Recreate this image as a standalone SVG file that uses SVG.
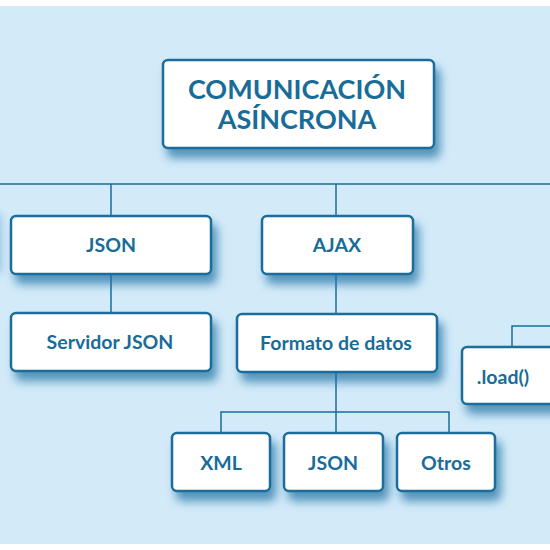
<svg xmlns="http://www.w3.org/2000/svg" width="550" height="550" viewBox="0 0 550 550">
<style>
.box{fill:#ffffff;stroke:#1a6d99;stroke-width:2.5}
.line{stroke:#1a6d99;stroke-width:1.5;fill:none}
.t{font-family:Lato,"Open Sans",sans-serif;font-weight:bold;fill:#196c98;text-anchor:middle}
.s{font-size:19.5px}
.big{font-size:27px}
</style>
<defs>
<filter id="sh" x="-30%" y="-30%" width="160%" height="180%">
<feDropShadow dx="5" dy="9" stdDeviation="5" flood-color="#1f70a3" flood-opacity="0.7"/>
</filter>
<filter id="blur" x="-50%" y="-50%" width="200%" height="200%"><feGaussianBlur stdDeviation="5"/></filter>
</defs>
<rect x="0" y="0" width="550" height="550" fill="#ffffff"/>
<rect x="0" y="6" width="550" height="538" fill="#d3eaf9"/>
<rect x="-60" y="214" width="60" height="60" rx="4" fill="#3a88b8" opacity="0.5" filter="url(#blur)"/>
<g id="connectors">
<line class="line" x1="0" y1="184" x2="550" y2="184"/>
<line class="line" x1="111" y1="184" x2="111" y2="216"/>
<line class="line" x1="336" y1="184" x2="336" y2="216"/>
<line class="line" x1="111" y1="274" x2="111" y2="313"/>
<line class="line" x1="336" y1="274" x2="336" y2="314"/>
<line class="line" x1="336" y1="372" x2="336" y2="433"/>
<polyline class="line" points="221,433 221,412 449,412 449,433"/>
<polyline class="line" points="512,347 512,326 550,326"/>
</g>
<g id="n-root"><rect class="box" x="163" y="60" width="271" height="88" rx="5" filter="url(#sh)"/>
<text class="t big" x="297" y="99">COMUNICACIÓN</text><text class="t big" x="297" y="129">ASÍNCRONA</text></g>
<g id="n-json"><rect class="box" x="11" y="216" width="200" height="58" rx="5" filter="url(#sh)"/><text class="t s" x="111" y="252">JSON</text></g>
<g id="n-ajax"><rect class="box" x="262" y="216" width="151" height="58" rx="5" filter="url(#sh)"/><text class="t s" x="337" y="252">AJAX</text></g>
<g id="n-servidor"><rect class="box" x="11" y="313" width="200" height="58" rx="5" filter="url(#sh)"/><text class="t s" x="110" y="349">Servidor JSON</text></g>
<g id="n-formato"><rect class="box" x="237" y="314" width="200" height="58" rx="5" filter="url(#sh)"/><text class="t s" x="336" y="350">Formato de datos</text></g>
<g id="n-load"><rect class="box" x="462" y="347" width="100" height="57" rx="5" filter="url(#sh)"/><text class="t s" x="503" y="384">.load()</text></g>
<g id="n-xml"><rect class="box" x="172" y="433" width="98" height="58" rx="5" filter="url(#sh)"/><text class="t s" x="221" y="470">XML</text></g>
<g id="n-json2"><rect class="box" x="284" y="433" width="99" height="58" rx="5" filter="url(#sh)"/><text class="t s" x="333" y="470">JSON</text></g>
<g id="n-otros"><rect class="box" x="397" y="433" width="98" height="58" rx="5" filter="url(#sh)"/><text class="t s" x="446" y="470">Otros</text></g>
</svg>
